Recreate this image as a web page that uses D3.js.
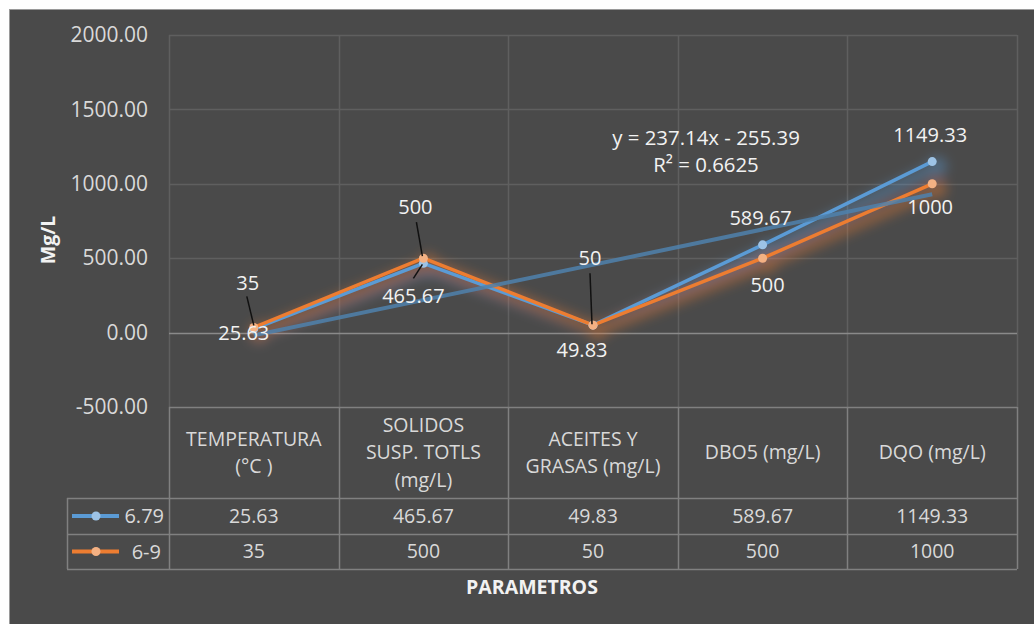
<!DOCTYPE html>
<html><head><meta charset="utf-8">
<script src="https://cdn.jsdelivr.net/npm/d3@7"></script>
<style>
html,body{margin:0;padding:0;background:#fff;}
svg{display:block;}
text{font-family:"Open Sans",sans-serif;}
</style></head>
<body>
<script>
// ---- data ----
const categories = [
  ["TEMPERATURA", "(°C )"],
  ["SOLIDOS", "SUSP. TOTLS", "(mg/L)"],
  ["ACEITES Y", "GRASAS (mg/L)"],
  ["DBO5 (mg/L)"],
  ["DQO (mg/L)"]
];
const seriesNames = ["6.79", "6-9"];
const series679 = [25.63, 465.67, 49.83, 589.67, 1149.33];
const series69 = [35, 500, 50, 500, 1000];
const yTicks = [-500, 0, 500, 1000, 1500, 2000];
const trendSlope = 237.14, trendIntercept = -255.39, trendR2 = 0.6625;
const yTitle = "Mg/L";
const xTitle = "PARAMETROS";

// ---- layout ----
const W = 1034, H = 624;
const svg = d3.select("body").append("svg").attr("width", W).attr("height", H);
const defs = svg.append("defs");
const f = defs.append("filter").attr("id","glow").attr("x","-20%").attr("y","-50%").attr("width","140%").attr("height","200%");
f.append("feGaussianBlur").attr("in","SourceGraphic").attr("stdDeviation",6).attr("result","b");
f.append("feOffset").attr("in","b").attr("dx",5).attr("dy",5).attr("result","o");
f.append("feComponentTransfer").attr("in","o").append("feFuncA").attr("type","linear").attr("slope",0.4);

svg.append("rect").attr("x",9.5).attr("y",9.5).attr("width",W).attr("height",H)
  .attr("fill","#4a4a4a").attr("stroke","#9a9a9a").attr("stroke-width",1);

const plotL = 169, plotR = 1017, plotT = 35, plotB = 407;
const x = d3.scaleBand().domain(d3.range(categories.length)).range([plotL, plotR]);
const y = d3.scaleLinear().domain([-500, 2000]).range([plotB, plotT]);
const cx = i => x(i) + x.bandwidth()/2;

// gridlines
const g = svg.append("g");
g.selectAll("line.h").data(yTicks.filter(d => d > 0)).join("line")
  .attr("x1", plotL).attr("x2", plotR).attr("y1", d => Math.round(y(d))+0.5).attr("y2", d => Math.round(y(d))+0.5)
  .attr("stroke", "#5f5f5f").attr("stroke-width", 1.5);
g.selectAll("line.v").data(d3.range(categories.length + 1)).join("line")
  .attr("x1", i => Math.round(plotL + i*x.bandwidth())+0.5).attr("x2", i => Math.round(plotL + i*x.bandwidth())+0.5)
  .attr("y1", plotT).attr("y2", plotB)
  .attr("stroke", "#5f5f5f").attr("stroke-width", 1.5);
// zero axis
g.append("line").attr("x1", plotL).attr("x2", plotR).attr("y1", Math.round(y(0))+0.5).attr("y2", Math.round(y(0))+0.5)
  .attr("stroke", "#8a8a8a").attr("stroke-width", 1.5);

// y axis labels
const fmtTick = d => d3.format(".2f")(d).replace("−", "-");
const yAxis = d3.axisLeft(y).tickValues(yTicks).tickFormat(fmtTick).tickSize(0).tickPadding(21);
const ya = svg.append("g").attr("transform", `translate(${plotL},0)`).call(yAxis);
ya.select(".domain").remove();
ya.selectAll("text").attr("fill","#d9d9d9").style("font-size","21px").attr("font-family","Open Sans");

svg.append("text").attr("transform", `translate(55,240) rotate(-90)`).attr("text-anchor","middle")
  .attr("fill","#f2f2f2").style("font-size","19.5px").style("font-weight","bold").text(yTitle);

// table
const tbl = svg.append("g");
const tBorder = "#808080";
const rowH = [407, 498, 534, 569];
const legendL = 67;
tbl.append("line").attr("x1",plotL).attr("x2",plotR).attr("y1",rowH[0]+0.5).attr("y2",rowH[0]+0.5).attr("stroke",tBorder).attr("stroke-width",1.5);
[1,2,3].forEach(k => tbl.append("line").attr("x1",legendL).attr("x2",plotR).attr("y1",rowH[k]+0.5).attr("y2",rowH[k]+0.5).attr("stroke",tBorder).attr("stroke-width",1.5));
d3.range(categories.length+1).forEach(i => {
  const xx = Math.round(plotL + i*x.bandwidth())+0.5;
  tbl.append("line").attr("x1",xx).attr("x2",xx).attr("y1",rowH[0]).attr("y2",rowH[3]).attr("stroke",tBorder).attr("stroke-width",1.5);
});
tbl.append("line").attr("x1",legendL+0.5).attr("x2",legendL+0.5).attr("y1",rowH[1]).attr("y2",rowH[3]).attr("stroke",tBorder).attr("stroke-width",1.5);

// header text
categories.forEach((lines, i) => {
  const lh = 27.5, n = lines.length;
  const midY = (rowH[0] + rowH[1]) / 2;
  lines.forEach((ln, j) => {
    tbl.append("text").attr("x", cx(i)).attr("y", midY + (j - (n-1)/2)*lh).attr("dy","0.35em")
      .attr("text-anchor","middle").attr("fill","#d9d9d9").style("font-size","19.5px").text(ln);
  });
});
const fmtCell = d3.format("");
const seriesList = [
  {name: seriesNames[0], values: series679, color:"#5b9bd5", light:"#9dc3e6", glow:"#5b9bd5"},
  {name: seriesNames[1], values: series69, color:"#ed7d31", light:"#f4b183", glow:"#ed7d31"}
];
seriesList.forEach((s, k) => {
  const ry = (rowH[k+1] + rowH[k+2]) / 2;
  s.values.forEach((v, i) => {
    tbl.append("text").attr("x", cx(i)).attr("y", ry).attr("dy","0.35em").attr("text-anchor","middle")
      .attr("fill","#d9d9d9").style("font-size","19.5px").text(fmtCell(v));
  });
  tbl.append("line").attr("x1",72).attr("x2",119).attr("y1",ry).attr("y2",ry).attr("stroke",s.color).attr("stroke-width",4);
  tbl.append("circle").attr("cx",96).attr("cy",ry).attr("r",4.5).attr("fill",s.light);
  tbl.append("text").attr("x",k === 0 ? 164 : 161).attr("y",ry).attr("dy","0.35em").attr("text-anchor","end")
    .attr("fill","#d9d9d9").style("font-size","20px").text(s.name);
});

svg.append("text").attr("x", 532).attr("y", 587).attr("dy","0.35em").attr("text-anchor","middle")
  .attr("fill","#f2f2f2").style("font-size","19.5px").style("font-weight","bold").text(xTitle);

// lines
const line = d3.line().x((d,i) => cx(i)).y(d => y(d));
const glowG = svg.append("g").attr("filter","url(#glow)");
seriesList.forEach(s => {
  glowG.append("path").attr("d", line(s.values)).attr("fill","none").attr("stroke",s.glow).attr("stroke-width",12);
  glowG.selectAll(null).data(s.values).join("circle").attr("cx",(d,i)=>cx(i)).attr("cy",d=>y(d)).attr("r",10).attr("fill",s.glow);
});
seriesList.forEach(s => {
  svg.append("path").attr("d", line(s.values)).attr("fill","none").attr("stroke",s.color)
    .attr("stroke-width",3.5).attr("stroke-linejoin","round");
});
seriesList.forEach(s => {
  svg.selectAll(null).data(s.values).join("circle").attr("cx",(d,i)=>cx(i)).attr("cy",d=>y(d)).attr("r",4.5).attr("fill",s.light);
});

// trendline (linear on 6.79), x = 1..n
const tx = [1, categories.length];
svg.append("line").attr("x1", cx(0)).attr("y1", y(trendSlope*tx[0]+trendIntercept))
  .attr("x2", cx(categories.length-1)).attr("y2", y(trendSlope*tx[1]+trendIntercept))
  .attr("stroke","#4f81ad").attr("stroke-width",4).attr("stroke-opacity",0.85);

// data labels
const lblColor = "#f2f2f2";
const offs = [
  [[-10,4],[-10,33],[-11,25],[-2,-27],[-2,-27]],
  [[-6,-44],[-8,-51],[-3,-67],[5,27],[-2,23]]
];
const leaders = [
  [null,[[-10,15],[-1,1]],null,null,null],
  [[[-7,-31],[0,-2]],[[-7,-36],[-1,-2]],[[-3,-52],[-1,-1]],null,null]
];
seriesList.forEach((s, k) => {
  s.values.forEach((v, i) => {
    const px = cx(i), py = y(v);
    const L = leaders[k][i];
    if (L) svg.append("line").attr("x1",px+L[0][0]).attr("y1",py+L[0][1]).attr("x2",px+L[1][0]).attr("y2",py+L[1][1])
      .attr("stroke","#111").attr("stroke-width",1.5);
    svg.append("text").attr("x", px+offs[k][i][0]).attr("y", py+offs[k][i][1]).attr("dy","0.35em")
      .attr("text-anchor","middle").attr("fill",lblColor).style("font-size","20px").text(fmtCell(v));
  });
});

// trend equation
svg.append("text").attr("x",706).attr("y",138).attr("dy","0.35em").attr("text-anchor","middle")
  .attr("fill",lblColor).style("font-size","20.4px").text(`y = ${trendSlope}x - ${Math.abs(trendIntercept)}`);
svg.append("text").attr("x",706).attr("y",165).attr("dy","0.35em").attr("text-anchor","middle")
  .attr("fill",lblColor).style("font-size","20.4px").text(`R² = ${trendR2}`);
</script>
</body></html>
